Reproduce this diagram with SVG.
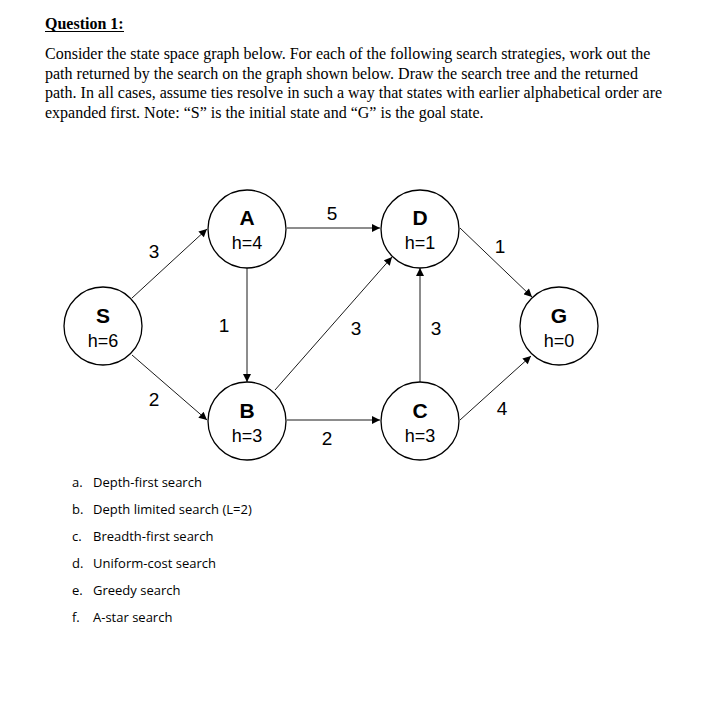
<svg xmlns="http://www.w3.org/2000/svg" width="706" height="707" viewBox="0 0 706 707">
<style>
.q{font-family:"Liberation Serif","Times New Roman",serif;font-size:16px;fill:#000}
.node circle{fill:#fff;stroke:#000;stroke-width:1.3}
.nm{font-family:"Liberation Sans",Arial,sans-serif;font-size:21px;font-weight:bold;text-anchor:middle;fill:#000}
.h{font-family:"Liberation Sans",Arial,sans-serif;font-size:18px;text-anchor:middle;fill:#000}
.el{font-family:"Liberation Sans",Arial,sans-serif;font-size:19px;text-anchor:middle;fill:#000}
.edges line{stroke:#000;stroke-width:0.9;marker-end:url(#arr)}
.li{font-family:"Open Sans","Liberation Sans",sans-serif;font-size:13px;fill:#000}
</style>
<defs>
<marker id="arr" viewBox="0 0 10 10" refX="10" refY="5" markerWidth="9" markerHeight="8" markerUnits="userSpaceOnUse" orient="auto">
<path d="M0,0 L10,5 L0,10 z" fill="#000"/>
</marker>
</defs>
<rect width="706" height="707" fill="#fff"/>
<g id="question">
<text class="q" x="45" y="29" font-weight="bold">Question 1:</text>
<line x1="45" y1="31.5" x2="124" y2="31.5" stroke="#000" stroke-width="1.2"/>
<text class="q" x="45" y="59">Consider the state space graph below. For each of the following search strategies, work out the</text>
<text class="q" x="45" y="79">path returned by the search on the graph shown below. Draw the search tree and the returned</text>
<text class="q" x="45" y="98">path. In all cases, assume ties resolve in such a way that states with earlier alphabetical order are</text>
<text class="q" x="45" y="118">expanded first. Note: “S” is the initial state and “G” is the goal state.</text>
</g>
<g id="edges" class="edges">
<line x1="132" y1="298" x2="207" y2="229"/>
<line x1="132" y1="355" x2="207" y2="420"/>
<line x1="247" y1="268" x2="247" y2="382"/>
<line x1="287" y1="228" x2="380" y2="228"/>
<line x1="275" y1="390" x2="392" y2="257"/>
<line x1="287" y1="420" x2="380" y2="420"/>
<line x1="420" y1="382" x2="420" y2="268"/>
<line x1="460" y1="228" x2="532" y2="297"/>
<line x1="460" y1="420" x2="531" y2="356"/>
</g>
<g id="edge-labels">
<text class="el" x="154" y="258">3</text>
<text class="el" x="154" y="406">2</text>
<text class="el" x="224" y="332">1</text>
<text class="el" x="332" y="220">5</text>
<text class="el" x="500" y="253">1</text>
<text class="el" x="356" y="335">3</text>
<text class="el" x="436" y="335">3</text>
<text class="el" x="327" y="445">2</text>
<text class="el" x="502" y="415">4</text>
</g>
<g id="node-S" class="node"><circle cx="103" cy="326" r="39"/><text class="nm" x="103" y="323">S</text><text class="h" x="103" y="347">h=6</text></g>
<g id="node-A" class="node"><circle cx="247" cy="229" r="39"/><text class="nm" x="247" y="225">A</text><text class="h" x="247" y="249">h=4</text></g>
<g id="node-B" class="node"><circle cx="247" cy="421" r="39"/><text class="nm" x="247" y="418">B</text><text class="h" x="247" y="442">h=3</text></g>
<g id="node-D" class="node"><circle cx="420" cy="229" r="39"/><text class="nm" x="420" y="225">D</text><text class="h" x="420" y="249">h=1</text></g>
<g id="node-C" class="node"><circle cx="420" cy="421" r="39"/><text class="nm" x="420" y="418">C</text><text class="h" x="420" y="442">h=3</text></g>
<g id="node-G" class="node"><circle cx="559" cy="326" r="39"/><text class="nm" x="559" y="323">G</text><text class="h" x="559" y="347">h=0</text></g>
<g id="list">
<text class="li" x="72" y="487">a.</text><text class="li" x="93" y="487">Depth-first search</text>
<text class="li" x="72" y="514">b.</text><text class="li" x="93" y="514">Depth limited search (L=2)</text>
<text class="li" x="72" y="541">c.</text><text class="li" x="93" y="541">Breadth-first search</text>
<text class="li" x="72" y="568">d.</text><text class="li" x="93" y="568">Uniform-cost search</text>
<text class="li" x="72" y="595">e.</text><text class="li" x="93" y="595">Greedy search</text>
<text class="li" x="72" y="622">f.</text><text class="li" x="93" y="622">A-star search</text>
</g>
</svg>
